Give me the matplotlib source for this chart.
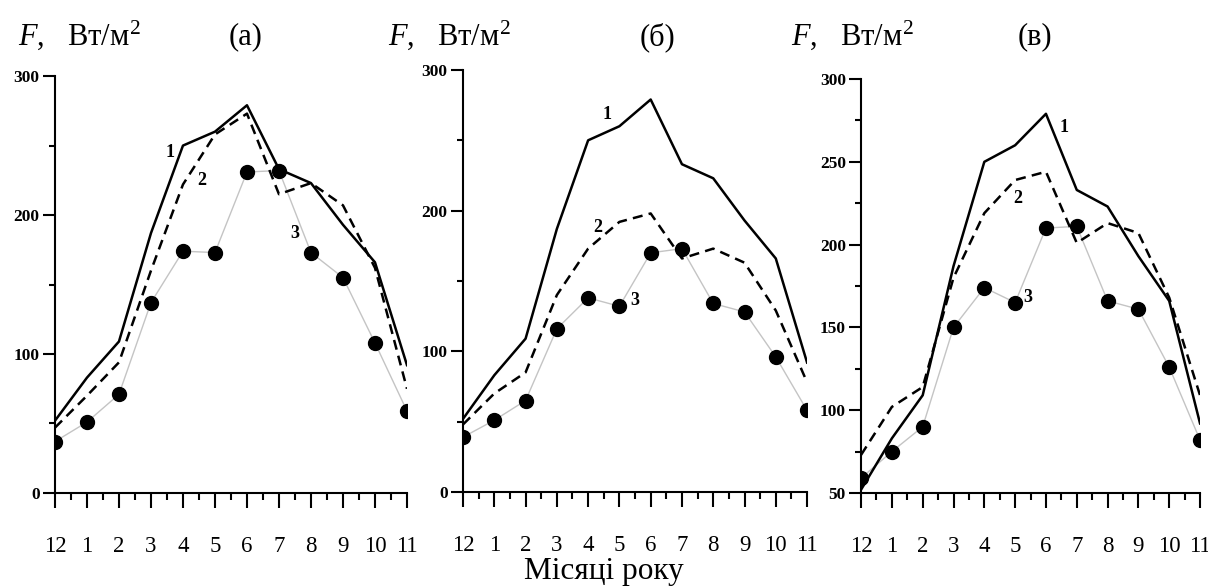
import matplotlib
matplotlib.use("Agg")
import matplotlib.pyplot as plt
from matplotlib.ticker import MultipleLocator

plt.rcParams['font.family'] = ['Liberation Serif', 'DejaVu Serif']
plt.rcParams['mathtext.fontset'] = 'custom'
plt.rcParams['mathtext.rm'] = 'Liberation Serif'
plt.rcParams['mathtext.it'] = 'Liberation Serif:italic'

months = ["12", "1", "2", "3", "4", "5", "6", "7", "8", "9", "10", "11"]

# curve 1 is the same in all panels
curve1 = [52, 83, 109, 187, 250, 260, 279, 233, 223, 193, 166, 92]

a_curve2 = [47, 70, 94, 160, 222, 258, 273, 215, 223, 207, 162, 75]
a_curve3 = [37, 51, 71, 137, 174, 173, 231, 232, 173, 155, 108, 59]

b_curve2 = [48, 70, 85, 140, 173, 192, 198, 166, 173, 163, 129, 78]
b_curve3 = [39, 51, 65, 116, 138, 132, 170, 173, 134, 128, 96, 58]

c_curve2 = [73, 102, 114, 180, 219, 239, 244, 201, 213, 207, 168, 109]
c_curve3 = [59, 75, 90, 150, 174, 165, 210, 211, 166, 161, 126, 82]

panels = [
    dict(rect=[0.0455, 0.1616, 0.2914, 0.709], c2=a_curve2, c3=a_curve3,
         ylim=(0, 300), major=100, minor=50, title="(a)",
         labels=[("1", 3.6, 245), ("2", 4.6, 225), ("3", 7.5, 187)],
         ftx=0.015, ttx=0.203),
    dict(rect=[0.3833, 0.1633, 0.2848, 0.7177], c2=b_curve2, c3=b_curve3,
         ylim=(0, 300), major=100, minor=50, title="(б)",
         labels=[("1", 4.6, 268), ("2", 4.3, 188), ("3", 5.5, 136)],
         ftx=0.321, ttx=0.544),
    dict(rect=[0.7128, 0.1616, 0.2806, 0.704], c2=c_curve2, c3=c_curve3,
         ylim=(50, 300), major=50, minor=25, title="(в)",
         labels=[("1", 6.6, 271), ("2", 5.1, 228), ("3", 5.4, 168)],
         ftx=0.655, ttx=0.857),
]

fig = plt.figure(figsize=(12.08, 5.88), dpi=100)
x = list(range(len(months)))

for p in panels:
    ax = fig.add_axes(p["rect"])
    ax.plot(x, p["c3"], color="#c4c4c4", lw=1.0, marker="o", ms=10,
            mfc="black", mec="black", zorder=2)
    ax.plot(x, curve1, color="black", lw=1.8, zorder=3)
    ax.plot(x, p["c2"], color="black", lw=1.8, ls=(0, (4, 2.5)), zorder=3)
    for txt, lx, ly in p["labels"]:
        ax.text(lx, ly, txt, fontsize=13, fontweight="bold", ha="center",
                va="center")

    ax.set_xlim(0, 11)
    ax.set_ylim(*p["ylim"])
    ax.spines["top"].set_visible(False)
    ax.spines["right"].set_visible(False)
    for s in ("left", "bottom"):
        ax.spines[s].set_linewidth(1.5)
    ax.set_xticks(x)
    ax.set_xticklabels(months, fontsize=16.5)
    ax.xaxis.set_minor_locator(MultipleLocator(0.5))
    ax.yaxis.set_major_locator(MultipleLocator(p["major"]))
    ax.yaxis.set_minor_locator(MultipleLocator(p["minor"]))
    ax.tick_params(axis="x", which="major", direction="out", length=11,
                   width=1.5, pad=20)
    ax.tick_params(axis="x", which="minor", direction="out", length=5,
                   width=1.5)
    ax.tick_params(axis="y", which="major", direction="out", length=9,
                   width=1.5, pad=2)
    ax.tick_params(axis="y", which="minor", direction="out", length=4,
                   width=1.5)
    for lab in ax.get_yticklabels():
        lab.set_fontweight("bold")
        lab.set_fontsize(12.5)

    fig.text(p["ftx"], 0.94, r"$\it{F}$,   Вт/м$^2$", fontsize=22,
             ha="left", va="center")
    fig.text(p["ttx"], 0.937, p["title"], fontsize=22, ha="center",
             va="center")

fig.text(0.5, 0.028, "Місяці року", fontsize=22.5, ha="center", va="center")

fig.savefig("out.png", dpi=100)
